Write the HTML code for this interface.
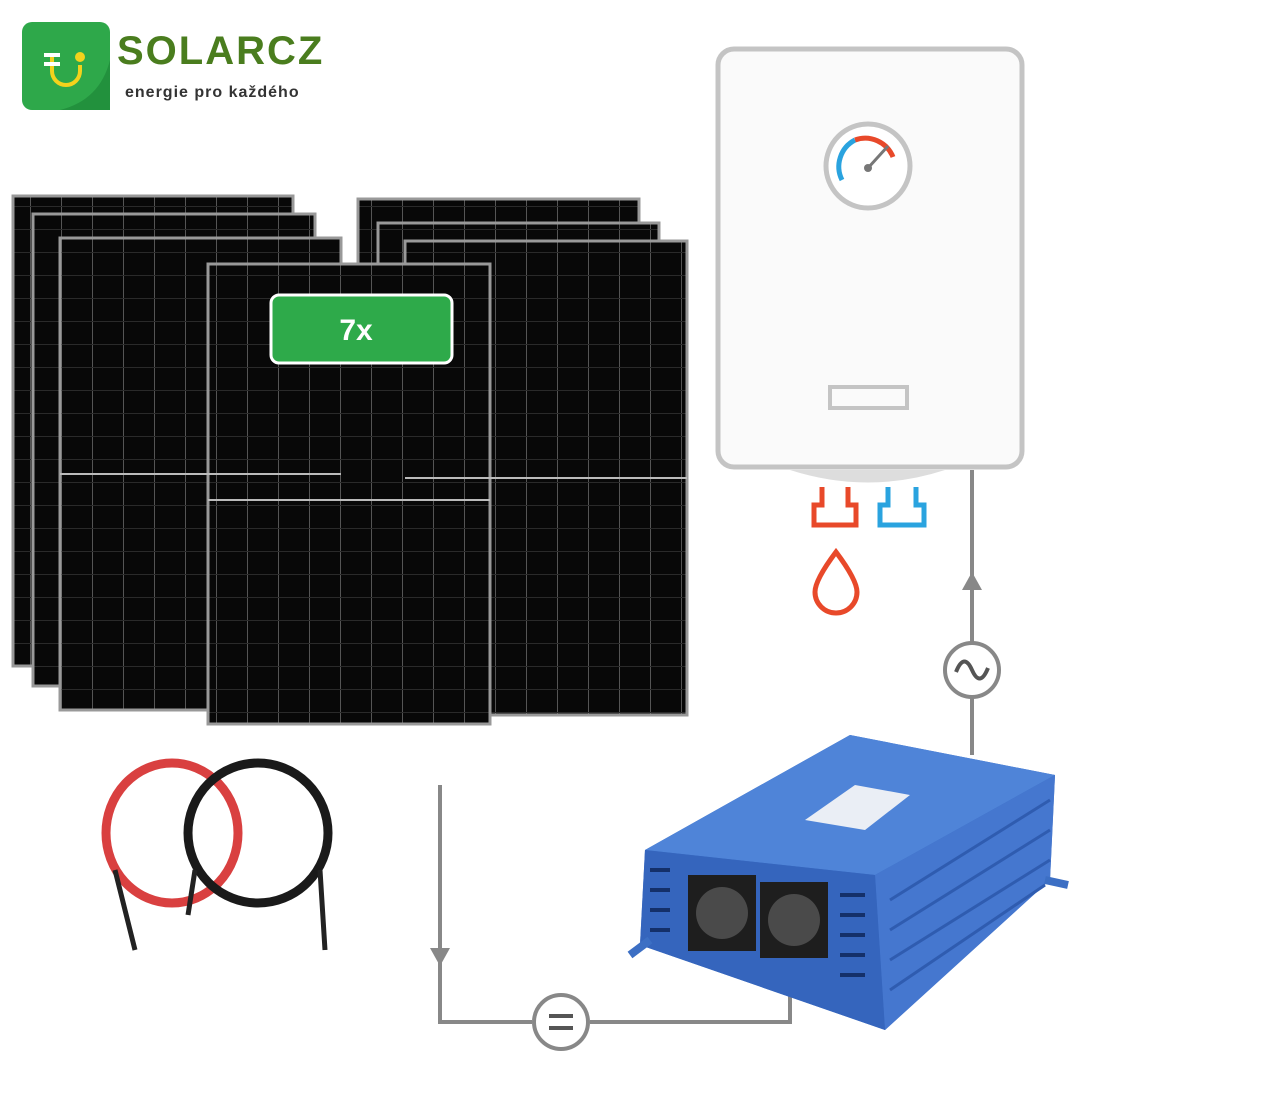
<!DOCTYPE html>
<html><head><meta charset="utf-8"><style>
body{margin:0;background:#fff;width:1280px;height:1103px;overflow:hidden;position:relative;font-family:"Liberation Sans",sans-serif}
.abs{position:absolute}
</style></head><body>
<svg class="abs" style="left:0;top:0" width="1280" height="1103" viewBox="0 0 1280 1103">
<defs>
<pattern id="cells" width="31" height="23" patternUnits="userSpaceOnUse">
<rect width="31" height="23" fill="#080808"/>
<path d="M30.5 0V23" stroke="#555" stroke-width="1"/>
<path d="M0 22.5H31" stroke="#2a2a2a" stroke-width="1"/>
</pattern>
</defs>
<!-- logo -->
<rect x="22" y="22" width="88" height="88" rx="10" fill="#2ea84a"/>
<path d="M22 110 L110 110 L110 60 Q100 100 60 110Z" fill="#22913d"/>
<path d="M52 55v16a14 14 0 0 0 28 0v-6" stroke="#f3d21c" stroke-width="4" fill="none"/>
<path d="M44 55h16M44 64h16" stroke="#fff" stroke-width="4"/>
<circle cx="80" cy="57" r="5" fill="#f3d21c"/>
<text x="117" y="64" font-family="Liberation Sans" font-weight="bold" font-size="40" fill="#4a7d1e" letter-spacing="2">SOLARCZ</text>
<text x="125" y="97" font-family="Liberation Sans" font-weight="bold" font-size="16" fill="#333" letter-spacing="1">energie pro každého</text>
<!-- panels -->
<g stroke="#999" stroke-width="3">
<rect x="13" y="196" width="280" height="470" fill="url(#cells)"/>
<rect x="33" y="214" width="282" height="472" fill="url(#cells)"/>
<rect x="60" y="238" width="281" height="472" fill="url(#cells)"/>
<rect x="358" y="199" width="281" height="470" fill="url(#cells)"/>
<rect x="378" y="223" width="281" height="470" fill="url(#cells)"/>
<rect x="405" y="241" width="282" height="474" fill="url(#cells)"/>
<rect x="208" y="264" width="282" height="460" fill="url(#cells)"/>
</g>
<path d="M60 474H341M405 478H687M208 500H490" stroke="#bbb" stroke-width="2"/>
<rect x="271" y="295" width="181" height="68" rx="8" fill="#2eaa4a" stroke="#fff" stroke-width="3"/>
<text x="356" y="340" text-anchor="middle" font-weight="bold" font-size="30" fill="#fff">7x</text>
<!-- boiler -->
<rect x="718" y="49" width="304" height="418" rx="16" fill="#fafafa" stroke="#c4c4c4" stroke-width="5"/>
<circle cx="868" cy="166" r="42" fill="#fff" stroke="#c4c4c4" stroke-width="5"/>
<path d="M842 180 A30 30 0 0 1 855 140" stroke="#2aa3df" stroke-width="5" fill="none"/>
<path d="M855 140 A30 30 0 0 1 893 157" stroke="#e8492a" stroke-width="5" fill="none"/>
<path d="M868 168 L888 146" stroke="#777" stroke-width="3"/>
<circle cx="868" cy="168" r="4" fill="#777"/>
<rect x="830" y="387" width="77" height="21" fill="none" stroke="#c4c4c4" stroke-width="4"/>
<path d="M790 470 Q868 495 945 470" fill="#ddd"/>
<path d="M822 487v18h-8v20h42v-20h-8v-18" fill="none" stroke="#e8492a" stroke-width="5"/>
<path d="M888 487v18h-8v20h44v-20h-8v-18" fill="none" stroke="#2aa3df" stroke-width="5"/>
<path d="M836 552 Q815 580 815 592 A21 21 0 0 0 857 592 Q857 580 836 552Z" fill="none" stroke="#e8492a" stroke-width="5"/>
<!-- lines -->
<g stroke="#888" stroke-width="4" fill="none">
<path d="M972 470V755"/>
<path d="M440 785V1022H532M590 1022H790V985"/>
</g>
<path d="M962 590L972 572L982 590Z" fill="#888"/>
<path d="M430 948L440 966L450 948Z" fill="#888"/>
<circle cx="972" cy="670" r="27" fill="#fff" stroke="#888" stroke-width="4"/>
<path d="M956 672 Q964 652 972 670 Q980 688 988 668" stroke="#555" stroke-width="4" fill="none"/>
<circle cx="561" cy="1022" r="27" fill="#fff" stroke="#888" stroke-width="4"/>
<path d="M549 1016H573M549 1028H573" stroke="#555" stroke-width="4"/>
<!-- cables -->
<ellipse cx="172" cy="833" rx="66" ry="70" fill="none" stroke="#d94040" stroke-width="9"/>
<ellipse cx="258" cy="833" rx="70" ry="70" fill="none" stroke="#1a1a1a" stroke-width="9"/>
<path d="M115 870L135 950M195 870L188 915M320 870L325 950" stroke="#222" stroke-width="5"/>
<!-- inverter -->
<path d="M645 850 L850 735 L1055 775 L1050 880 L885 1030 L640 945Z" fill="#3c6fc4"/>
<path d="M645 850 L850 735 L1055 775 L875 875Z" fill="#4f84d8"/>
<path d="M875 875 L1055 775 L1050 880 L885 1030Z" fill="#4577cf"/>
<g stroke="#2f5cb0" stroke-width="3"><path d="M890 900L1050 800M890 930L1050 830M890 960L1050 860M890 990L1045 885"/></g>
<path d="M645 850 L875 875 L885 1030 L640 945Z" fill="#3565bd"/>
<g stroke="#14306a" stroke-width="4"><path d="M650 870h20M650 890h20M650 910h20M650 930h20M840 895h25M840 915h25M840 935h25M840 955h25M840 975h25"/></g>
<path d="M805 820 L855 785 L910 795 L865 830Z" fill="#eaeef5"/>
<rect x="688" y="875" width="68" height="76" fill="#1e1e1e"/>
<rect x="760" y="882" width="68" height="76" fill="#1e1e1e"/>
<circle cx="722" cy="913" r="26" fill="#4a4a4a"/>
<circle cx="794" cy="920" r="26" fill="#4a4a4a"/>
<path d="M630 955L650 940M1045 880L1068 885" stroke="#3c6fc4" stroke-width="8"/>
</svg>
</body></html>
